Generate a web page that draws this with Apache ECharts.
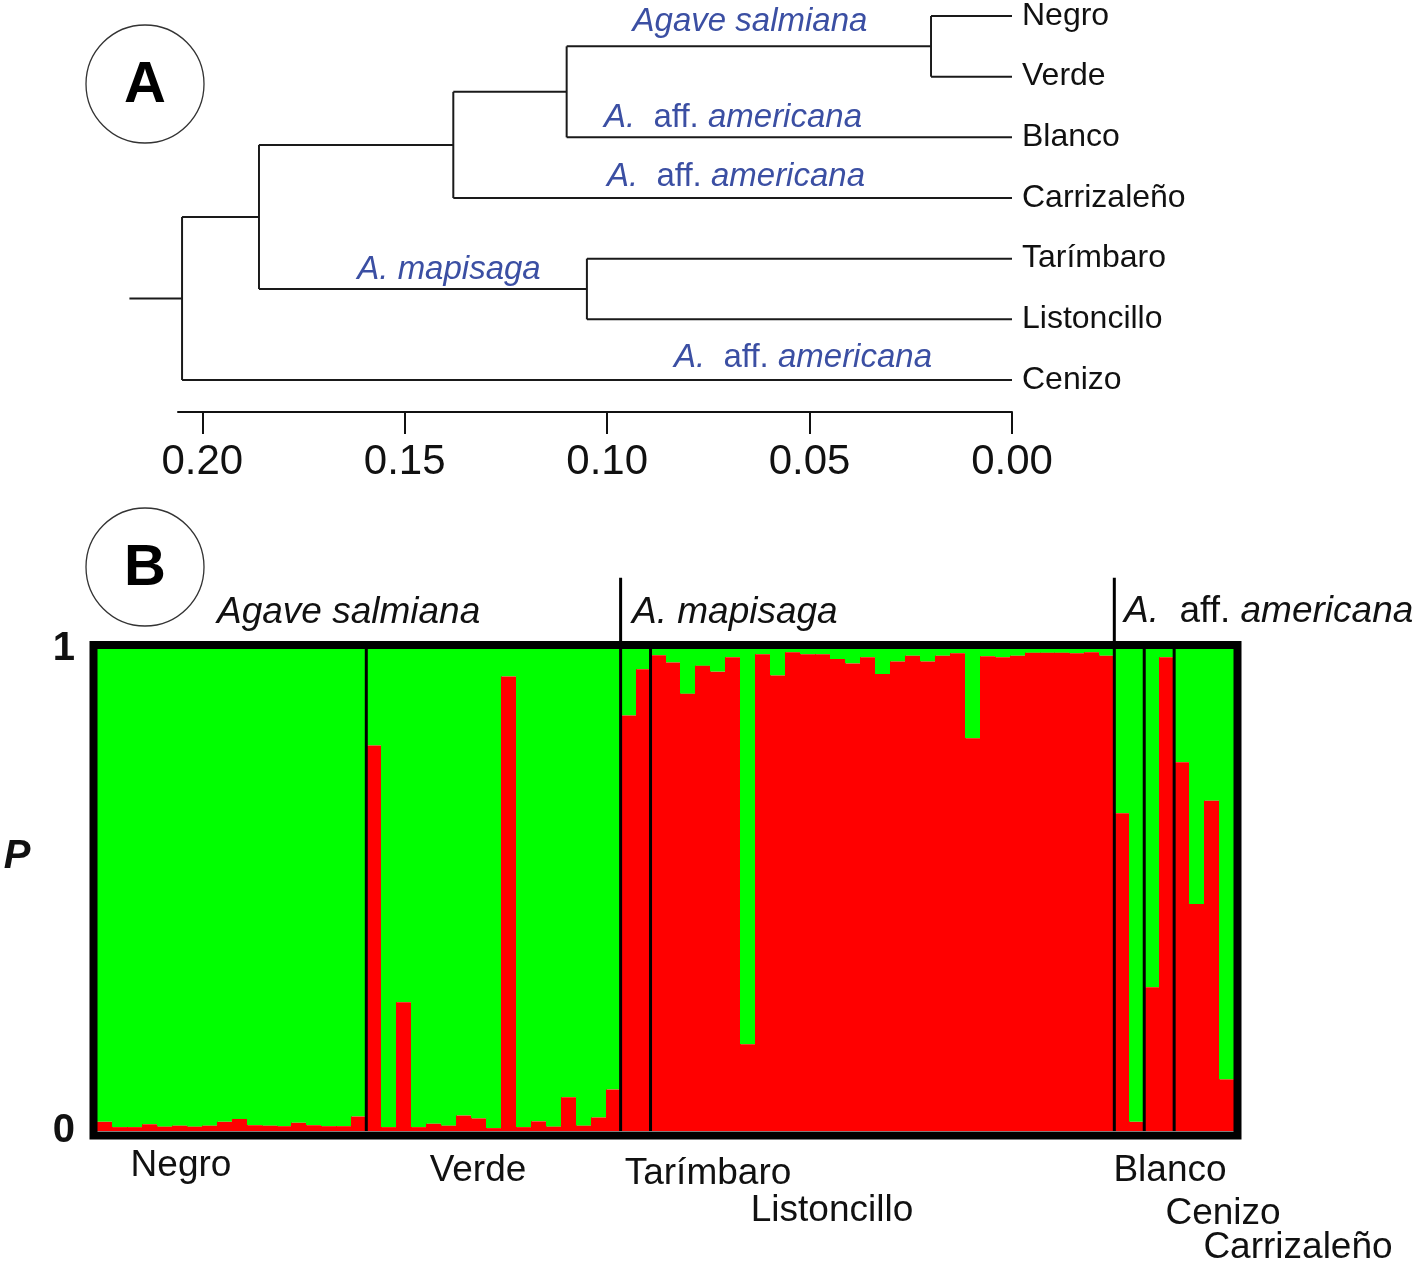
<!DOCTYPE html>
<html>
<head>
<meta charset="utf-8">
<script src="https://cdn.jsdelivr.net/npm/echarts@6/dist/echarts.min.js"></script>
<style>
html,body{margin:0;padding:0;background:#fff;}
#chart{width:1418px;height:1263px;}
</style>
</head>
<body>
<div id="chart"></div>
<script>
// ---------- Panel A: dendrogram data ----------
const leaves = ['Negro', 'Verde', 'Blanco', 'Carrizaleño', 'Tarímbaro', 'Listoncillo', 'Cenizo'];
const mergeLeft = [0, 7, 8, 4, 9, 11];
const mergeRight = [1, 2, 3, 5, 10, 6];
const mergeHeight = [0.020, 0.110, 0.138, 0.105, 0.186, 0.205];
const rootStub = 0.218;
const distTicks = [0, 0.05, 0.10, 0.15, 0.20];

// ---------- Panel B: membership proportion (red cluster) per individual ----------
const negro = [0.019, 0.008, 0.008, 0.014, 0.009, 0.011, 0.009, 0.011, 0.019, 0.025, 0.012, 0.011, 0.010, 0.017, 0.012, 0.010, 0.010, 0.030];
const verde = [0.80, 0.008, 0.267, 0.008, 0.015, 0.011, 0.032, 0.026, 0.006, 0.943, 0.008, 0.020, 0.009, 0.070, 0.011, 0.028, 0.086];
const tarimbaro = [0.862, 0.958];
const listoncillo = [0.987, 0.972, 0.907, 0.965, 0.953, 0.983, 0.18, 0.989, 0.945, 0.993, 0.989, 0.989, 0.979, 0.970, 0.983, 0.948,
  0.974, 0.986, 0.974, 0.986, 0.991, 0.815, 0.985, 0.983, 0.986, 0.992, 0.992, 0.992, 0.991, 0.993, 0.986];
const blanco = [0.659, 0.019];
const cenizo = [0.298, 0.983];
const carrizaleno = [0.765, 0.471, 0.685, 0.107];
const popNames = ['Negro', 'Verde', 'Tarímbaro', 'Listoncillo', 'Blanco', 'Cenizo', 'Carrizaleño'];
const pYTicks = [0, 1];

// ---------- derived ----------
const pops = [negro, verde, tarimbaro, listoncillo, blanco, cenizo, carrizaleno];
const redVals = [].concat(...pops);
const cats = redVals.map((_, i) => String(i + 1));
const boundaries = [];
let acc = 0;
pops.forEach((p, k) => { acc += p.length; if (k < pops.length - 1) boundaries.push(acc); });
const speciesBoundaries = [pops[0].length + pops[1].length, pops[0].length + pops[1].length + pops[2].length + pops[3].length];

// tree geometry
const ys = leaves.map((_, i) => i);
const hs = leaves.map(() => 0);
const segs = [];
mergeLeft.forEach((a, k) => {
  const b = mergeRight[k];
  const n = leaves.length + k;
  ys[n] = (ys[a] + ys[b]) / 2;
  hs[n] = mergeHeight[k];
  segs.push([hs[n], ys[a], hs[n], ys[b]]);
  segs.push([hs[a], ys[a], hs[n], ys[a]]);
  segs.push([hs[b], ys[b], hs[n], ys[b]]);
});
const rootId = leaves.length + mergeLeft.length - 1;
segs.push([hs[rootId], ys[rootId], rootStub, ys[rootId]]);

const chart = echarts.init(document.getElementById('chart'), null, {renderer: 'canvas'});
const FONT = "'Liberation Sans', Arial, sans-serif";
const BLUE = '#3b4fa3';

function spText(x, y, txt, color, size, align) {
  const rich = {
    i: {fontStyle: 'italic', fontSize: size, fontFamily: FONT, fill: color, color: color},
    n: {fontStyle: 'normal', fontSize: size, fontFamily: FONT, fill: color, color: color}
  };
  return {
    type: 'text', x: x, y: y, z: 50,
    style: {
      text: txt, rich: rich,
      fontSize: size, fontFamily: FONT, fill: color,
      align: align || 'center', verticalAlign: 'middle'
    }
  };
}
const AFF = '{i|A.}{n|  aff. }{i|americana}';

const gridB = {left: 97, top: 649, width: 1137, height: 482};

function popLabel(i, x, y) {
  return {type: 'text', x: x, y: y, style: {text: popNames[i], fontSize: 37, fontFamily: FONT, fill: '#111', align: 'center', verticalAlign: 'middle'}};
}

const option = {
  backgroundColor: '#ffffff',
  animation: false,
  grid: [
    {left: 178, top: 16, right: 406, bottom: 883},
    {left: gridB.left, top: gridB.top, width: gridB.width, height: gridB.height}
  ],
  xAxis: [
    {
      gridIndex: 0, type: 'value', inverse: true, min: 0, max: 0.206,
      position: 'bottom', offset: 32,
      axisLine: {show: true, onZero: false, lineStyle: {color: '#111', width: 2}},
      axisTick: {show: true, inside: false, length: 22, customValues: distTicks, lineStyle: {color: '#111', width: 2}},
      axisLabel: {customValues: distTicks, formatter: v => v.toFixed(2), fontSize: 42, fontFamily: FONT, color: '#111', margin: 29},
      splitLine: {show: false}
    },
    {
      gridIndex: 1, type: 'category', data: cats, show: false, boundaryGap: true
    }
  ],
  yAxis: [
    {
      gridIndex: 0, type: 'value', inverse: true, min: 0, max: 6, interval: 1, position: 'right',
      axisLine: {show: false}, axisTick: {show: false}, splitLine: {show: false},
      axisLabel: {formatter: v => leaves[v] || '', fontSize: 32, fontFamily: FONT, color: '#111', margin: 10}
    },
    {
      gridIndex: 1, type: 'value', min: 0, max: 1, interval: 1,
      axisLine: {show: false}, axisTick: {show: false}, splitLine: {show: false},
      axisLabel: {customValues: pYTicks, fontSize: 40, fontWeight: 'bold', fontFamily: FONT, color: '#111', margin: 22}
    }
  ],
  series: [
    {
      type: 'custom', xAxisIndex: 0, yAxisIndex: 0, clip: false,
      data: segs,
      encode: {x: [0, 2], y: [1, 3]},
      renderItem: function (params, api) {
        const p1 = api.coord([api.value(0), api.value(1)]);
        const p2 = api.coord([api.value(2), api.value(3)]);
        return {type: 'line', shape: {x1: p1[0], y1: p1[1], x2: p2[0], y2: p2[1]}, style: {stroke: '#1a1a1a', lineWidth: 2}};
      }
    },
    {
      // stacked membership bars (red = cluster 1 share, green = remainder up to 1)
      type: 'custom', xAxisIndex: 1, yAxisIndex: 1,
      data: redVals.map((v, i) => [i, v]),
      encode: {x: 0, y: 1},
      renderItem: function (params, api) {
        const i = api.value(0);
        const v = api.value(1);
        const w = api.size([1, 0])[0];
        const c = api.coord([i, 0])[0];
        const x0 = Math.round(c - w / 2);
        const x1 = Math.round(c + w / 2) + 1; // 1px overlap: next bar paints over, no seams
        const yBase = api.coord([i, 0])[1];
        const yMid = api.coord([i, v])[1];
        const yTop = api.coord([i, 1])[1];
        return {
          type: 'group',
          children: [
            {type: 'rect', shape: {x: x0, y: yTop, width: x1 - x0, height: yMid - yTop}, style: {fill: '#00ff00'}},
            {type: 'rect', shape: {x: x0, y: yMid, width: x1 - x0, height: yBase - yMid}, style: {fill: '#ff0000'}}
          ]
        };
      }
    },
    {
      type: 'custom', xAxisIndex: 1, yAxisIndex: 1, clip: false, z: 10,
      data: boundaries.map(b => [b, speciesBoundaries.indexOf(b) >= 0 ? 1.148 : 1]),
      encode: {x: 0, y: 1},
      renderItem: function (params, api) {
        const idx = api.value(0);
        const a = api.coord([idx - 1, 0]);
        const b = api.coord([idx, 0]);
        const x = (a[0] + b[0]) / 2;
        const top = api.coord([idx, api.value(1)])[1];
        return {type: 'line', shape: {x1: x, y1: top, x2: x, y2: a[1]}, style: {stroke: '#000', lineWidth: 3}};
      }
    }
  ],
  graphic: [
    {type: 'circle', shape: {cx: 145, cy: 84, r: 59}, style: {fill: 'none', stroke: '#333', lineWidth: 1.3}},
    {type: 'text', x: 145, y: 86, style: {text: 'A', fontSize: 58, fontWeight: 'bold', fontFamily: FONT, fill: '#000', align: 'center', verticalAlign: 'middle'}},
    {type: 'circle', shape: {cx: 145, cy: 567, r: 59}, style: {fill: 'none', stroke: '#333', lineWidth: 1.3}},
    {type: 'text', x: 145, y: 569, style: {text: 'B', fontSize: 58, fontWeight: 'bold', fontFamily: FONT, fill: '#000', align: 'center', verticalAlign: 'middle'}},
    spText(750, 22, '{i|Agave salmiana}', BLUE, 33),
    spText(733, 118, AFF, BLUE, 33),
    spText(736, 177, AFF, BLUE, 33),
    spText(449, 270, '{i|A. mapisaga}', BLUE, 33),
    spText(803, 358, AFF, BLUE, 33),
    spText(217, 613, '{i|Agave salmiana}', '#111', 37, 'left'),
    spText(632, 613, '{i|A. mapisaga}', '#111', 37, 'left'),
    spText(1124, 612, AFF, '#111', 37, 'left'),
    {type: 'text', x: 17, y: 857, style: {text: 'P', fontSize: 40, fontWeight: 'bold', fontStyle: 'italic', fontFamily: FONT, fill: '#111', align: 'center', verticalAlign: 'middle'}},
    popLabel(0, 181, 1166),
    popLabel(1, 478, 1171),
    popLabel(2, 708, 1174),
    popLabel(3, 832, 1211),
    popLabel(4, 1170, 1171),
    popLabel(5, 1223, 1214),
    popLabel(6, 1298, 1248),
    {type: 'rect', z: 100, shape: {x: gridB.left - 3.5, y: gridB.top - 4, width: gridB.width + 7, height: gridB.height + 8.5},
      style: {fill: 'none', stroke: '#000', lineWidth: 8}}
  ]
};
chart.setOption(option);
</script>
</body>
</html>
